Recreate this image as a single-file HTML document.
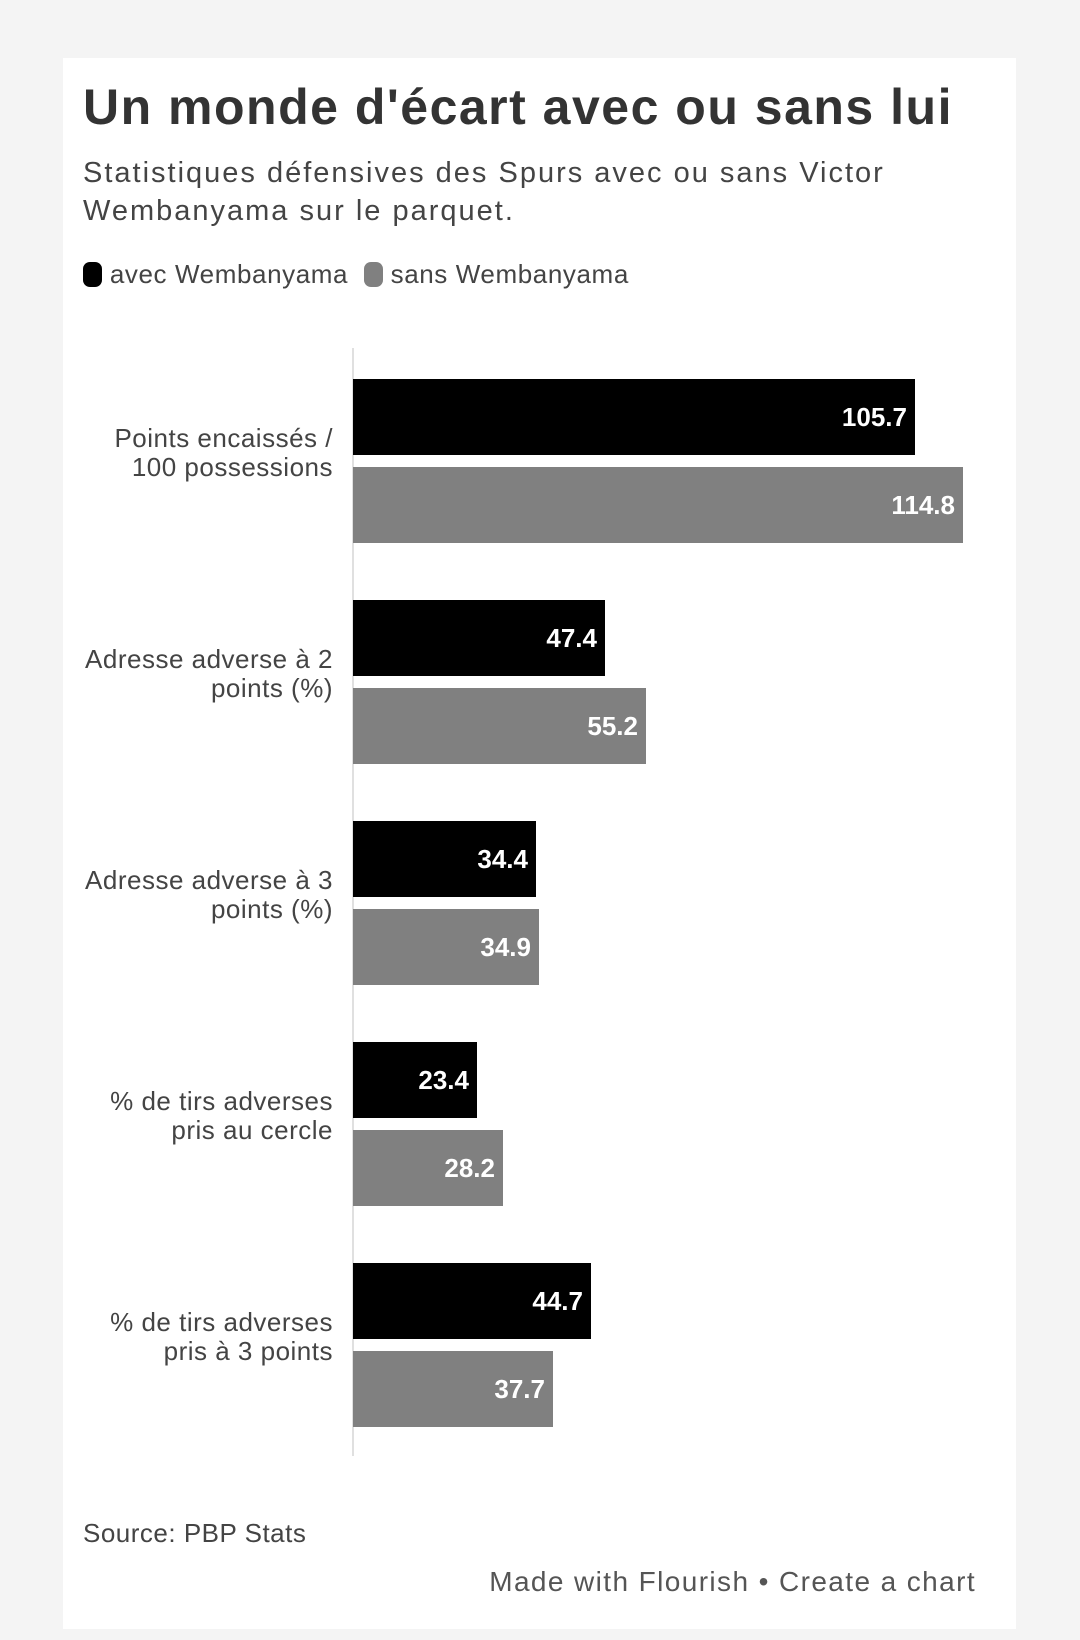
<!DOCTYPE html>
<html><head><meta charset="utf-8"><style>
body{margin:0;width:1080px;height:1640px;background:#f4f4f4;font-family:"Liberation Sans",sans-serif;position:relative;overflow:hidden}
.card{position:absolute;left:63px;top:58px;width:953px;height:1571px;background:#fff}
.a{position:absolute;white-space:nowrap}
.bar{position:absolute;left:353px;height:76px}
.k{background:#000}.g{background:#808080}
.v{position:absolute;right:8px;top:0;line-height:76px;color:#fff;font-weight:bold;font-size:26px}
.cat{position:absolute;right:747px;text-align:right;font-size:26px;line-height:29px;color:#444;letter-spacing:0.5px}
</style></head><body>
<div class="card"></div>
<div class="a" style="left:83px;top:78px;font-size:50px;font-weight:bold;color:#333;letter-spacing:1.5px">Un monde d'écart avec ou sans lui</div>
<div class="a" style="left:83px;top:154px;font-size:29px;line-height:38px;color:#444;letter-spacing:2px">Statistiques défensives des Spurs avec ou sans Victor<br>Wembanyama sur le parquet.</div>
<div class="a" style="left:83px;top:259px;font-size:26px;color:#444;line-height:30px;letter-spacing:0.6px">
<span style="display:inline-block;width:19px;height:25px;border-radius:7px;background:#000;vertical-align:-4px"></span> avec Wembanyama &nbsp;<span style="display:inline-block;width:19px;height:25px;border-radius:7px;background:#808080;vertical-align:-4px"></span> sans Wembanyama</div>
<div class="a" style="left:352px;top:348px;width:2px;height:1108px;background:#e0e0e0"></div>

<div class="cat" style="top:424px">Points encaissés /<br>100 possessions</div>
<div class="bar k" style="top:379px;width:562px"><span class="v">105.7</span></div>
<div class="bar g" style="top:467px;width:610px"><span class="v">114.8</span></div>

<div class="cat" style="top:645px">Adresse adverse à 2<br>points (%)</div>
<div class="bar k" style="top:600px;width:252px"><span class="v">47.4</span></div>
<div class="bar g" style="top:688px;width:293px"><span class="v">55.2</span></div>

<div class="cat" style="top:866px">Adresse adverse à 3<br>points (%)</div>
<div class="bar k" style="top:821px;width:183px"><span class="v">34.4</span></div>
<div class="bar g" style="top:909px;width:186px"><span class="v">34.9</span></div>

<div class="cat" style="top:1087px">% de tirs adverses<br>pris au cercle</div>
<div class="bar k" style="top:1042px;width:124px"><span class="v">23.4</span></div>
<div class="bar g" style="top:1130px;width:150px"><span class="v">28.2</span></div>

<div class="cat" style="top:1308px">% de tirs adverses<br>pris à 3 points</div>
<div class="bar k" style="top:1263px;width:238px"><span class="v">44.7</span></div>
<div class="bar g" style="top:1351px;width:200px"><span class="v">37.7</span></div>

<div class="a" style="left:83px;top:1518px;font-size:26px;color:#444;letter-spacing:0.5px">Source: PBP Stats</div>
<div class="a" style="right:104px;top:1566px;font-size:28px;color:#555;letter-spacing:1.4px">Made with Flourish • Create a chart</div>
</body></html>
